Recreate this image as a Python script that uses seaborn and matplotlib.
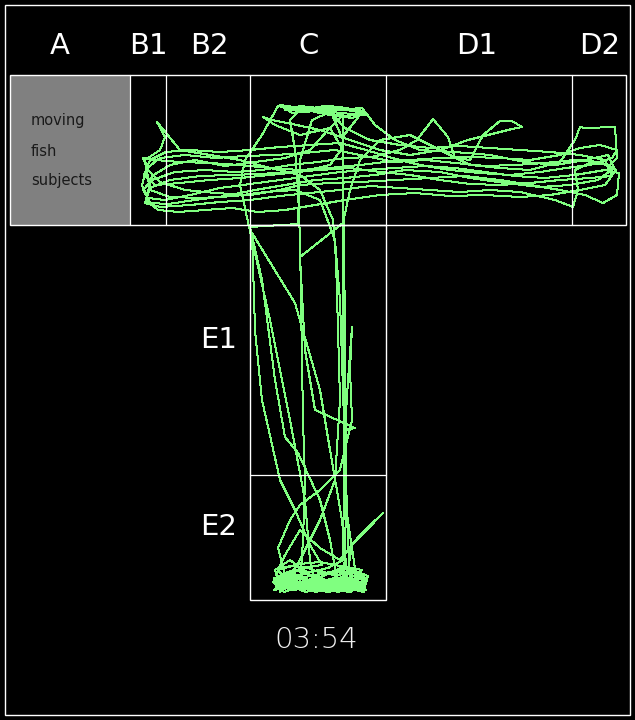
import numpy as np
import pandas as pd
import seaborn as sns
import matplotlib
matplotlib.use("Agg")
import matplotlib.pyplot as plt
from matplotlib.patches import Rectangle

#%% zone layout of the video frame (pixel coordinates, y down)
zone_names = ["A", "B1", "B2", "C", "D1", "D2"]
zone_label_x = [60, 148, 209, 309, 477, 600]
stem_names = ["E1", "E2"]
stem_label_y = [340, 527]
arm_edges = [10, 130, 166, 250, 386, 572, 626]
legend_lines = ["moving", "fish", "subjects"]
clock = "03:54"

#%% tracked fish path, read off the frame in bouts
bout_top = [(300,112),(322,108),(346,110),(366,113),(352,118),(330,115),(306,110),(282,106),
            (292,113),(316,111),(340,107),(362,112),(356,120),(344,135),(341,150),(330,165),
            (300,172),(270,175),(240,178),(210,180),(180,183),(155,185),(144,175),(150,160),
            (166,152),(190,150),(220,152),(250,150),(280,147),(310,145),(340,143),(366,150),
            (392,158),(420,165),(450,170),(480,173),(510,175),(540,172),(566,168),(590,165),
            (612,158),(617,150),(600,145),(580,148),(560,155),(530,160),(500,158),(470,157),
            (440,158),(410,160),(385,162),(360,165),(330,168),(300,170),(270,168),(240,165),
            (210,163),(180,162),(155,160),(143,158)]

bout_sweep = [(148,170),(160,182),(185,190),(215,193),(250,195),(280,190),(300,185),(330,183),
              (360,182),(395,180),(430,178),(465,176),(500,180),(530,185),(560,190),(585,195),
              (603,203),(617,195),(619,173),(605,170),(575,175),(545,178),(515,176),(485,172),
              (455,168),(425,166),(395,168),(365,170),(340,172),(310,176),(280,180),(250,184),
              (220,188),(190,195),(165,200),(148,198),(143,190),(152,180),(175,172),(205,170),
              (235,172),(262,170),(290,165),(318,162),(345,158),(372,157),(400,150),(417,140),
              (433,119),(448,137),(455,158),(470,160),(483,135),(500,121),(512,121),(522,127),
              (512,129),(468,140),(440,150),(410,155),(380,150),(350,140),(320,130),(292,124),
              (272,120),(263,117)]

bout_dive = [(263,117),(275,125),(300,135),(330,128),(343,150),(343,200),(344,260),(345,320),
             (345,380),(346,440),(346,500),(345,555),(343,585),(320,588),(295,586),(278,580),
             (275,570),(290,560),(310,575),(330,582),(355,584),(362,575),(350,568),(330,572),
             (300,578),(282,586),(300,585),(303,540),(305,480),(303,420),(302,360),(301,300),
             (300,240),(298,190),(295,150),(290,120),(300,110),(325,106),(350,109),(367,114),
             (345,116),(318,112),(290,108),(278,106)]

bout_diag = [(278,106),(262,135),(245,160),(240,185),(248,222),(270,320),(290,420),(305,500),
             (310,560),(316,588),(335,582),(352,590),(364,580),(348,574),(326,584),(304,590),
             (286,578),(278,548),(290,520),(300,505),(320,490),(340,470),(352,420),(350,370),
             (352,327),(348,380),(345,430),(355,428),(315,410),(305,350),(300,257),(343,223),
             (350,190),(360,160),(380,140),(410,135),(440,150)]

bout_right = [(440,150),(470,165),(500,168),(530,170),(560,162),(575,140),(580,127),(585,128),
              (615,127),(617,158),(610,165),(590,163),(575,170),(578,190),(573,207),(555,200),
              (520,192),(490,190),(460,192),(430,190),(400,188),(370,186),(340,190),(310,193),
              (280,196),(250,200),(220,202),(190,205),(160,207),(145,203),(150,188),(170,180),
              (200,176),(230,175),(260,174),(290,172),(320,170),(350,168),(380,172),(410,175),
              (440,180),(470,184),(500,185),(530,183),(560,180),(590,178),(612,176),(605,160),
              (580,155),(550,152),(520,150),(490,148),(460,146),(430,148),(400,145),(370,140),
              (345,128),(330,112)]

bout_stem = [(330,112),(312,120),(300,160),(298,224),(250,227),(262,280),(275,380),(285,437),
             (298,453),(320,500),(330,540),(338,585),(318,590),(296,582),(280,590),(274,578),
             (292,574),(312,584),(334,578),(356,588),(365,578),(348,570),(352,545),(383,513),
             (360,535),(340,560),(320,548),(300,530),(285,555),(276,575),(295,590),(315,580),
             (338,592),(360,584),(344,576),(322,590),(302,576),(285,584),(300,560),(320,520),
             (335,480),(340,400),(338,330),(336,260),(333,220),(320,190),(300,175),(270,168),
             (240,160),(210,155),(180,150),(157,122),(165,137),(160,150),(145,160),(150,190),
             (170,197),(200,198),(235,196),(265,192)]

bout_last = [(265,192),(295,190),(320,200),(335,240),(340,300),(342,360),(344,420),(346,480),
             (348,540),(350,580),(330,590),(310,582),(292,590),(276,582),(290,572),(308,580),
             (326,590),(344,580),(362,590),(352,578),(336,586),(318,576),(300,588),(282,580),
             (296,570),(316,578),(340,588),(358,576),(345,566),(325,575),(305,585),(288,578),
             (300,568),(322,565),(310,545),(295,510),(280,480),(262,400),(255,330),(252,233),
             (295,303),(320,390),(330,450),(342,520),(347,575),(330,585),(312,578),(295,588)]

bout_base = [(295,588),(280,584),(274,590),(290,586),(306,592),(322,586),(338,590),(354,586),
             (366,590),(360,582),(342,584),(324,580),(308,586),(290,580),(278,576),(296,582),
             (314,590),(332,584),(350,592),(364,584),(348,578),(330,586),(312,582),(294,590),
             (276,586),(286,574),(304,580),(322,588),(340,582),(358,590),(345,500),(344,300),
             (343,140),(330,110),(300,108),(280,105),(300,112),(330,106),(360,110),(368,115),
             (340,113),(310,109),(285,110),(300,106),(335,110),(362,108)]

bout_band = [(362,108),(375,125),(395,140),(420,150),(455,152),(490,155),(525,162),(555,165),
             (585,160),(608,155),(614,168),(598,180),(570,185),(540,187),(505,183),(470,178),
             (440,172),(405,170),(375,175),(345,178),(315,180),(285,185),(255,190),(225,196),
             (195,200),(168,204),(150,203),(142,185),(147,168),(160,158),(185,155),(215,158),
             (245,156),(275,155),(305,153),(335,150),(365,156),(395,162),(425,160),(455,163),
             (485,166),(515,165),(545,163),(575,160),(600,162),(616,170),(605,185),(580,190),
             (550,195),(520,197),(485,195),(450,196),(415,193),(380,195),(345,200),(315,205),
             (285,210),(258,212),(232,208),(205,210),(178,212),(158,210),(146,200),(152,176),
             (170,165),(195,160),(225,166),(255,162),(285,158),(310,150),(328,130),(343,115)]

bout_pile = [(343,115),(343,300),(344,480),(343,560),(328,568),(310,572),(294,570),(282,574),
             (273,582),(284,592),(300,586),(316,592),(332,586),(348,592),(365,586),(368,576),
             (352,570),(336,576),(318,570),(300,575),(286,580),(278,570),(292,566),(308,568),
             (324,574),(342,572),(360,574),(366,582),(350,586),(334,580),(318,586),(302,582),
             (288,588),(276,578),(290,576),(306,588),(322,580),(338,584),(356,580),(364,592),
             (346,588),(328,592),(310,588),(292,584),(280,592),(298,578),(316,584),(334,590),
             (352,582),(362,570),(340,566),(320,562),(300,564),(282,568)]

bouts = [bout_top, bout_sweep, bout_dive, bout_diag, bout_right, bout_stem,
         bout_last, bout_base, bout_band, bout_pile]
path = pd.DataFrame(np.concatenate([np.array(b) for b in bouts]), columns=["x", "y"])

#%% style
sns.set_theme(style="dark", rc={"axes.facecolor": "black", "figure.facecolor": "black"})
plt.rcParams["font.family"] = ["DejaVu Sans"]

fig = plt.figure(figsize=(6.35, 7.2), dpi=100)
ax = fig.add_axes([0, 0, 1, 1])

# trajectory, thin aliased strokes like the tracker overlay
sns.lineplot(data=path, x="x", y="y", sort=False, estimator=None, color="#80ff80",
             linewidth=0.72, antialiased=False, ax=ax, zorder=3)
ax.set_xlim(0, 635)
ax.set_ylim(720, 0)
ax.axis("off")

# maze outline
wc = "white"
ax.add_patch(Rectangle((5, 5), 625, 710, fill=False, edgecolor=wc, lw=1, zorder=4))
ax.add_patch(Rectangle((arm_edges[0], 75), arm_edges[1] - arm_edges[0], 150,
                       facecolor="#808080", edgecolor="none", zorder=1))
ax.add_patch(Rectangle((arm_edges[0], 75), arm_edges[-1] - arm_edges[0], 150,
                       fill=False, edgecolor=wc, lw=1, zorder=4))
for xe in arm_edges[1:-1]:
    ax.plot([xe, xe], [75, 225], color=wc, lw=0.9, zorder=4)
ax.add_patch(Rectangle((250, 225), 136, 375, fill=False, edgecolor=wc, lw=1, zorder=4))
ax.plot([250, 386], [475, 475], color=wc, lw=0.9, zorder=4)

# zone labels
for name, xl in zip(zone_names, zone_label_x):
    ax.text(xl, 46, name, color="white", fontsize=21, ha="center", va="center")
for name, yl in zip(stem_names, stem_label_y):
    ax.text(219, yl, name, color="white", fontsize=21, ha="center", va="center")

for i, line in enumerate(legend_lines):
    ax.text(31, 121 + 30 * i, line, color="#1a1a1a", fontsize=10.5, ha="left", va="center")

ax.text(316, 640, clock, color="#f0f0f0", fontsize=21, ha="center", va="center",
        fontweight="light")

fig.savefig("out.png", dpi=100, facecolor="black")
